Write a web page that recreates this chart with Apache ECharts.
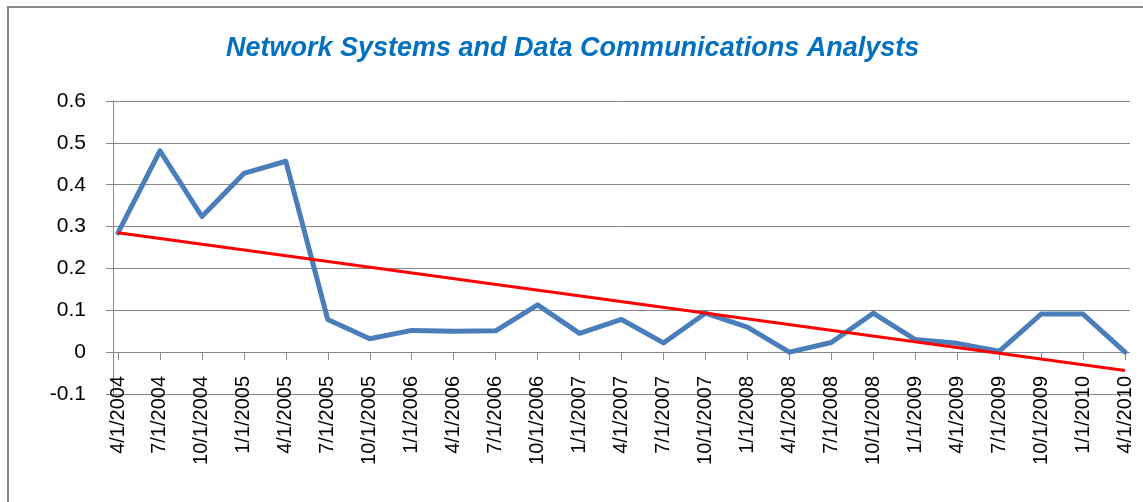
<!DOCTYPE html>
<html>
<head>
<meta charset="utf-8">
<script src="https://cdn.jsdelivr.net/npm/echarts@6/dist/echarts.min.js"></script>
<style>
html,body{margin:0;padding:0;background:#fff;}
#chart{width:1143px;height:502px;}
</style>
</head>
<body>
<div id="chart"></div>
<script>
const titleText = 'Network Systems and Data Communications Analysts';
const categories = ['4/1/2004','7/1/2004','10/1/2004','1/1/2005','4/1/2005','7/1/2005','10/1/2005',
  '1/1/2006','4/1/2006','7/1/2006','10/1/2006','1/1/2007','4/1/2007','7/1/2007','10/1/2007',
  '1/1/2008','4/1/2008','7/1/2008','10/1/2008','1/1/2009','4/1/2009','7/1/2009','10/1/2009',
  '1/1/2010','4/1/2010'];
const values = [0.285,0.481,0.324,0.427,0.456,0.078,0.032,0.052,0.050,0.051,0.113,0.045,0.078,0.022,0.093,
  0.060,0.000,0.023,0.093,0.030,0.021,0.002,0.091,0.091,0.000];
const trendStart = 0.285;
const trendEnd = -0.044;
const yTicks = {min: -0.1, max: 0.6, interval: 0.1};

const gray = '#888888';
const chart = echarts.init(document.getElementById('chart'));
chart.setOption({
  animation: false,
  backgroundColor: '#fff',
  title: {
    text: titleText,
    left: 226,
    top: 35,
    padding: 0,
    textStyle: {fontFamily: 'Liberation Sans', fontStyle: 'italic', fontWeight: 'bold', fontSize: 27, color: '#0070C0'}
  },
  graphic: [{
    type: 'rect', shape: {x: 8, y: 7, width: 1300, height: 700},
    style: {fill: 'none', stroke: gray, lineWidth: 2}, silent: true, z: -10
  }],
  grid: [
    {left: 113, right: 13, top: 101, bottom: 108},
    {left: 118, right: 18, top: 101, bottom: 108}
  ],
  xAxis: [
    {gridIndex: 0, type: 'value', min: 0, max: 1, show: false},
    {gridIndex: 1, type: 'category', data: categories, boundaryGap: false,
      axisLine: {show: true, onZero: true, lineStyle: {color: gray, width: 1}},
      axisTick: {show: true, length: 8, interval: 0, lineStyle: {color: gray}},
      axisLabel: {interval: 0, rotate: 90, margin: -18, color: '#000', fontFamily: 'Liberation Sans', fontSize: 20}
    }
  ],
  yAxis: [
    {gridIndex: 0, type: 'value', min: yTicks.min, max: yTicks.max, interval: yTicks.interval,
      axisLine: {show: true, lineStyle: {color: gray, width: 1}},
      axisTick: {show: true, length: 7, lineStyle: {color: gray}},
      splitLine: {show: true, lineStyle: {color: gray, width: 1}},
      axisLabel: {margin: 27, color: '#000', fontFamily: 'Liberation Sans', fontSize: 21,
        formatter: v => String(Math.round(v * 10) / 10)}
    },
    {gridIndex: 1, type: 'value', min: yTicks.min, max: yTicks.max, interval: yTicks.interval,
      axisLine: {show: false}, axisTick: {show: false}, axisLabel: {show: false}, splitLine: {show: false}}
  ],
  series: [
    {type: 'line', xAxisIndex: 1, yAxisIndex: 1, data: values, symbol: 'none',
      lineStyle: {color: '#4A7EBB', width: 5, join: 'round', cap: 'round'}, z: 3},
    {type: 'line', xAxisIndex: 1, yAxisIndex: 1,
      data: [[categories[0], trendStart], [categories[categories.length - 1], trendEnd]],
      symbol: 'none', lineStyle: {color: '#FF0000', width: 3}, z: 4}
  ]
});
</script>
</body>
</html>
